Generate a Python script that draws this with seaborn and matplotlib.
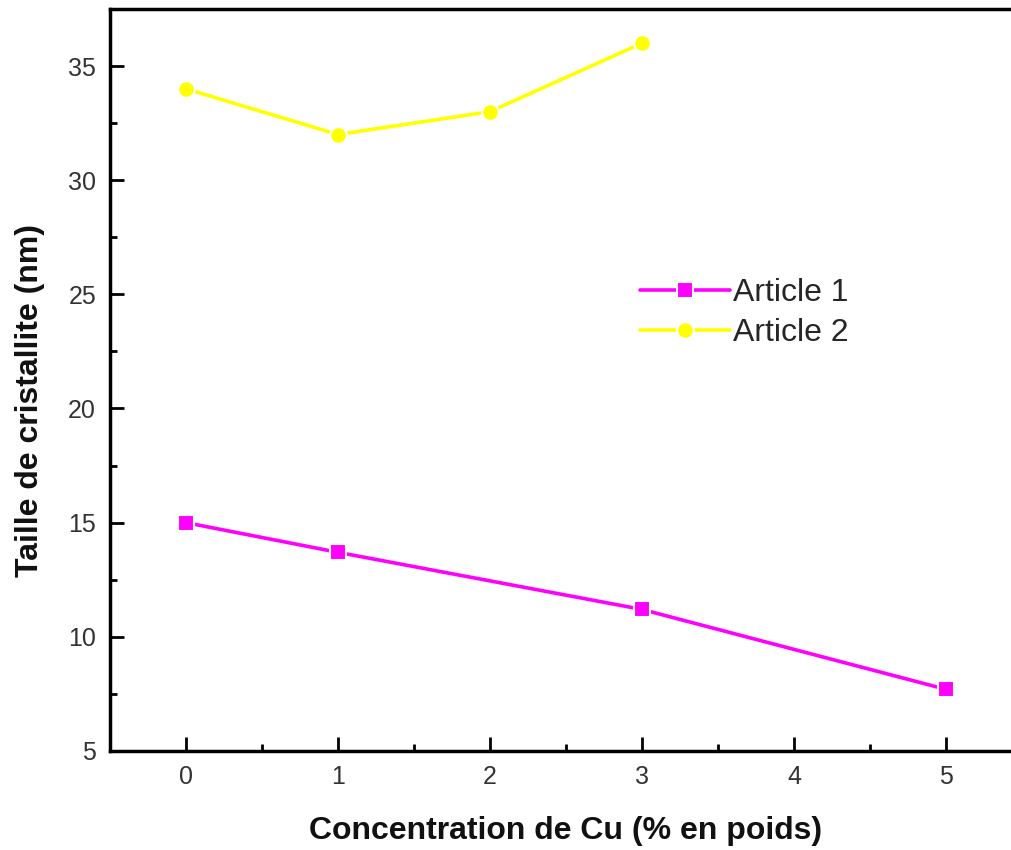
import matplotlib
matplotlib.use("Agg")
import matplotlib.pyplot as plt
from matplotlib.ticker import MultipleLocator
import seaborn as sns
import pandas as pd

# Crystallite size versus Cu concentration
cu_article1 = [0, 1, 3, 5]
size_article1 = [15.0, 13.7, 11.2, 7.7]
cu_article2 = [0, 1, 2, 3]
size_article2 = [34.0, 32.0, 33.0, 36.0]
series_names = ["Article 1", "Article 2"]

df = pd.concat([
    pd.DataFrame({"cu": cu_article1, "size": size_article1, "serie": series_names[0]}),
    pd.DataFrame({"cu": cu_article2, "size": size_article2, "serie": series_names[1]}),
], ignore_index=True)

sns.set_theme(style="white")
plt.rcParams["font.family"] = ["Liberation Sans", "DejaVu Sans"]

fig = plt.figure(figsize=(10.11, 8.5), dpi=100)
ax = fig.add_axes([0.1088, 0.1165, 0.902, 0.873])

sns.lineplot(
    data=df, x="cu", y="size", hue="serie", style="serie",
    palette={"Article 1": "#ff00ff", "Article 2": "#ffff00"},
    markers={"Article 1": "s", "Article 2": "o"}, dashes=False,
    linewidth=2.6, markersize=12, markeredgecolor="white", markeredgewidth=1.5,
    ax=ax,
)

ax.set_xlim(-0.5, 5.5)
ax.set_ylim(5, 37.5)
ax.xaxis.set_major_locator(MultipleLocator(1))
ax.xaxis.set_minor_locator(MultipleLocator(0.5))
ax.yaxis.set_major_locator(MultipleLocator(5))
ax.yaxis.set_minor_locator(MultipleLocator(2.5))
ax.tick_params(which="both", direction="in", colors="black", labelcolor="#333333",
               width=2, left=True, bottom=True, labelsize=18)
ax.tick_params(which="major", length=10)
ax.tick_params(which="minor", length=5)
ax.tick_params(axis="x", pad=10)
ax.tick_params(axis="y", pad=10)

for side in ["left", "bottom", "top"]:
    ax.spines[side].set_visible(True)
    ax.spines[side].set_color("black")
    ax.spines[side].set_linewidth(2.5)
ax.spines["right"].set_visible(False)

ax.set_xlabel("Concentration de Cu (% en poids)", fontsize=23, fontweight="bold",
              color="#111111")
ax.set_ylabel("Taille de cristallite (nm)", fontsize=23, fontweight="bold",
              color="#111111")
ax.xaxis.set_label_coords(0.5, -0.088)
ax.yaxis.set_label_coords(-0.071, 0.472)

leg = ax.legend(loc="upper left", bbox_to_anchor=(0.55, 0.676), frameon=False,
                fontsize=23, handlelength=2.8, labelspacing=0.3, handletextpad=0.1)
for h in leg.legend_handles:
    h.set_markeredgecolor("white")
    h.set_linewidth(2.6)

fig.savefig("out.png", dpi=100)
